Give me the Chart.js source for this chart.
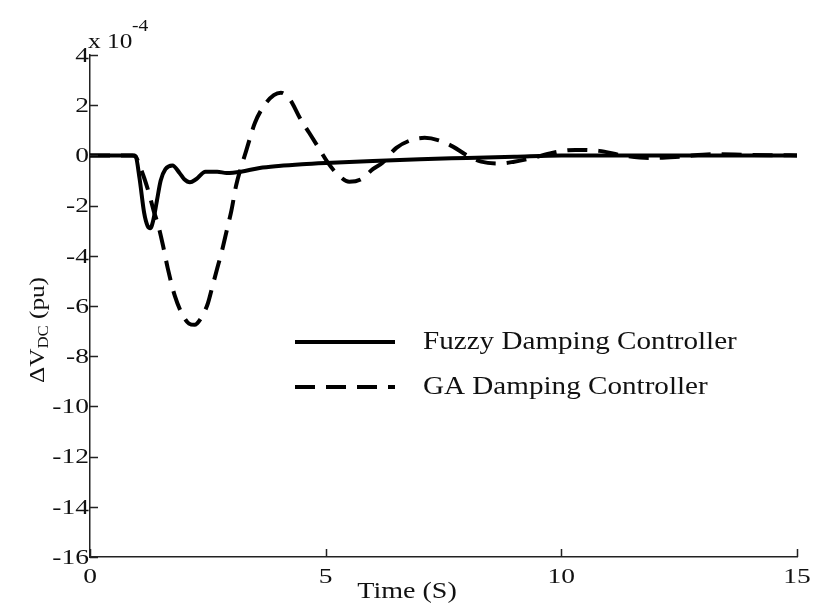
<!DOCTYPE html>
<html>
<head>
<meta charset="utf-8">
<script src="https://cdn.jsdelivr.net/npm/chart.js@4.4.1/dist/chart.umd.min.js"></script>
<style>
  body { margin: 0; background: #fff; }
  #wrap { width: 817px; height: 604px; }
</style>
</head>
<body>
<div id="wrap"><canvas id="dvChart" width="817" height="604"></canvas></div>
<script>
// values in units of 1e-4 pu
const fuzzyTime = [0, 0.9, 0.97, 1.05, 1.15, 1.22, 1.28, 1.34, 1.42, 1.5, 1.6, 1.75, 1.9, 2.0, 2.12, 2.25, 2.45, 2.7, 2.9, 3.2, 3.6, 4.0, 4.5, 5.0, 6.0, 7.0, 8.0, 9.0, 10.0, 12.0, 15.0];
const fuzzyDv = [0, 0, -0.05, -0.9, -2.3, -2.8, -2.9, -2.6, -1.8, -1.0, -0.55, -0.4, -0.7, -0.95, -1.07, -0.95, -0.65, -0.65, -0.7, -0.65, -0.5, -0.42, -0.35, -0.3, -0.22, -0.15, -0.1, -0.05, 0, 0, 0];

const gaTime = [0, 0.95, 1.05, 1.15, 1.25, 1.35, 1.45, 1.55, 1.65, 1.8, 1.95, 2.1, 2.22, 2.35, 2.5, 2.6, 2.7, 2.8, 2.9, 3.0, 3.1, 3.2, 3.3, 3.5, 3.7, 3.9, 4.05, 4.25, 4.45, 4.65, 4.85, 5.05, 5.25, 5.5, 5.75, 6.0, 6.2, 6.5, 6.8, 7.1, 7.4, 7.7, 8.0, 8.3, 8.7, 9.0, 9.4, 9.8, 10.3, 10.8, 11.3, 11.9, 12.5, 13.2, 14.0, 15.0];
const gaDv = [0, 0, -0.4, -0.9, -1.5, -2.2, -2.8, -3.6, -4.5, -5.6, -6.3, -6.7, -6.75, -6.5, -5.9, -5.2, -4.5, -3.8, -3.0, -2.2, -1.2, -0.5, 0.1, 1.3, 2.0, 2.4, 2.5, 2.2, 1.5, 0.9, 0.3, -0.3, -0.75, -1.05, -0.95, -0.55, -0.3, 0.3, 0.6, 0.7, 0.6, 0.35, 0.0, -0.25, -0.32, -0.25, -0.1, 0.1, 0.22, 0.18, 0.0, -0.1, -0.05, 0.05, 0.02, 0];

const xTicks = [0, 5, 10, 15];
const yMin = -16, yMax = 4, yStep = 2;

const serif = '"Liberation Serif", "Times New Roman", serif';
const ink = '#111';

function pts(ts, vs) {
    return ts.map(function (t, i) { return { x: t, y: vs[i] }; });
}

// the source figure's text is horizontally stretched, so text is drawn with a scale
function wideText(ctx, text, x, y, align, sx) {
    ctx.save();
    ctx.translate(x, y);
    ctx.scale(sx, 1);
    ctx.textAlign = align;
    ctx.fillText(text, 0, 0);
    ctx.restore();
}

const decorations = {
    id: 'decorations',
    afterDraw: function (chart) {
        const ctx = chart.ctx;
        const xs = chart.scales.x, ys = chart.scales.y;
        const area = chart.chartArea;
        ctx.save();

        // inward tick marks
        ctx.strokeStyle = '#222';
        ctx.lineWidth = 1.5;
        ctx.beginPath();
        xs.ticks.forEach(function (t) {
            const px = Math.round(xs.getPixelForValue(t.value)) + 0.5;
            ctx.moveTo(px, area.bottom);
            ctx.lineTo(px, area.bottom - 8);
        });
        ys.ticks.forEach(function (t) {
            const py = Math.round(ys.getPixelForValue(t.value)) + 0.5;
            ctx.moveTo(area.left, py);
            ctx.lineTo(area.left + 8, py);
        });
        ctx.stroke();

        // tick labels
        ctx.fillStyle = ink;
        ctx.font = '22px ' + serif;
        ctx.textBaseline = 'middle';
        ys.ticks.forEach(function (t) {
            wideText(ctx, String(t.value), area.left - 1, ys.getPixelForValue(t.value) + 1, 'right', 1.25);
        });
        ctx.textBaseline = 'alphabetic';
        xs.ticks.forEach(function (t) {
            wideText(ctx, String(t.value), xs.getPixelForValue(t.value), area.bottom + 26, 'center', 1.25);
        });

        // x title
        ctx.font = '23px ' + serif;
        wideText(ctx, 'Time (S)', 407, 598, 'center', 1.22);

        // exponent
        ctx.font = '22px ' + serif;
        wideText(ctx, 'x 10', area.left - 2, 48, 'left', 1.15);
        ctx.font = '17px ' + serif;
        wideText(ctx, '-4', area.left + 42, 31, 'left', 1.15);

        // y title with subscript
        ctx.save();
        ctx.translate(44, 330);
        ctx.rotate(-Math.PI / 2);
        ctx.scale(1.2, 1);
        const p1 = '\u0394V', p2 = 'DC', p3 = ' (pu)';
        ctx.font = '21px ' + serif;
        const w1 = ctx.measureText(p1).width;
        const w3 = ctx.measureText(p3).width;
        ctx.font = '14px ' + serif;
        const w2 = ctx.measureText(p2).width;
        const x0 = -(w1 + w2 + w3) / 2;
        ctx.textAlign = 'left';
        ctx.font = '21px ' + serif;
        ctx.fillText(p1, x0, 0);
        ctx.font = '14px ' + serif;
        ctx.fillText(p2, x0 + w1, 4);
        ctx.font = '21px ' + serif;
        ctx.fillText(p3, x0 + w1 + w2, 0);
        ctx.restore();

        // legend inside the plot
        ctx.font = '26px ' + serif;
        ctx.textBaseline = 'middle';
        chart.data.datasets.forEach(function (ds, i) {
            const y = 342 + i * 45;
            ctx.save();
            ctx.strokeStyle = ds.borderColor;
            ctx.lineWidth = ds.borderWidth;
            ctx.setLineDash(ds.borderDash || []);
            ctx.beginPath();
            ctx.moveTo(295, y);
            ctx.lineTo(395, y);
            ctx.stroke();
            ctx.restore();
            ctx.fillStyle = ink;
            wideText(ctx, ds.label, 423, y, 'left', 1.12);
        });
        ctx.restore();
    }
};

new Chart(document.getElementById('dvChart'), {
    type: 'line',
    data: {
        datasets: [{
            label: 'Fuzzy Damping Controller',
            data: pts(fuzzyTime, fuzzyDv),
            borderColor: '#000',
            borderWidth: 4,
            pointRadius: 0,
            cubicInterpolationMode: 'monotone',
            fill: false
        }, {
            label: 'GA Damping Controller',
            data: pts(gaTime, gaDv),
            borderColor: '#000',
            borderWidth: 4,
            borderDash: [20, 11],
            pointRadius: 0,
            cubicInterpolationMode: 'monotone',
            fill: false
        }]
    },
    options: {
        responsive: false,
        animation: false,
        layout: { padding: { left: 0, top: 55, right: 20, bottom: 0 } },
        plugins: {
            legend: { display: false },
            tooltip: { enabled: false }
        },
        scales: {
            x: {
                type: 'linear',
                min: 0,
                max: 15,
                afterFit: function (scale) { scale.height = 47; },
                afterBuildTicks: function (scale) {
                    scale.ticks = xTicks.map(function (v) { return { value: v }; });
                },
                grid: { display: true, drawOnChartArea: false, drawTicks: false },
                border: { display: true, color: '#222', width: 1.5 },
                ticks: { display: false }
            },
            y: {
                min: yMin,
                max: yMax,
                afterFit: function (scale) { scale.width = 90; },
                grid: { display: true, drawOnChartArea: false, drawTicks: false },
                border: { display: true, color: '#222', width: 1.5 },
                ticks: { display: false, stepSize: yStep }
            }
        }
    },
    plugins: [decorations]
});
</script>
</body>
</html>
